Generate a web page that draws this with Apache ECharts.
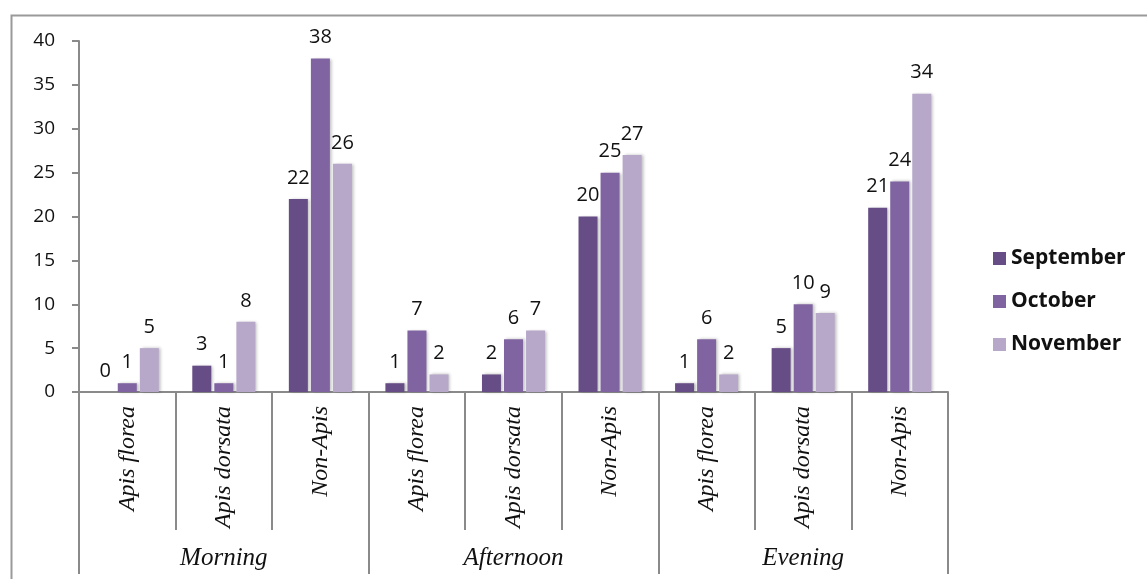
<!DOCTYPE html>
<html>
<head>
<meta charset="utf-8">
<script src="https://cdn.jsdelivr.net/npm/echarts@6/dist/echarts.min.js"></script>
<style>
html,body{margin:0;padding:0;background:#fff;}
#c{width:1147px;height:579px;}
</style>
</head>
<body>
<div id="c"></div>
<script>
var categories = ['Apis florea','Apis dorsata','Non-Apis','Apis florea','Apis dorsata','Non-Apis','Apis florea','Apis dorsata','Non-Apis'];
var groups = ['Morning','Afternoon','Evening'];
var september = [0,3,22,1,2,20,1,5,21];
var october = [1,1,38,7,6,25,6,10,24];
var november = [5,8,26,2,7,27,2,9,34];
var seriesNames = ['September','October','November'];
var yTicks = {min:0, max:40, interval:5};

var colors = ['#674d85','#8064a2','#b7a8ca'];
var chart = echarts.init(document.getElementById('c'));
function mk(name, data, color){
  return {
    name: name, type: 'bar', data: data, xAxisIndex: 0,
    barWidth: 19, barGap: '16%',
    itemStyle: {color: color, shadowColor: 'rgba(0,0,0,0.25)', shadowBlur: 3, shadowOffsetX: 2, shadowOffsetY: 0},
    label: {show: true, position: 'top', distance: 11, fontSize: 20, color: '#111', fontFamily: 'Open Sans, Liberation Sans, sans-serif'}
  };
}
chart.setOption({
  animation: false,
  backgroundColor: '#fff',
  graphic: [{type:'rect', left: 9, top: 13, shape:{width:1150, height:600}, style:{fill:'none', stroke:'#9a9a9a', lineWidth:2}, silent:true, z:-1}],
  grid: {left: 79, right: 199, top: 41, bottom: 187},
  legend: {
    orient: 'vertical', left: 988, top: 243, itemWidth: 13, itemHeight: 13, itemGap: 22,
    icon: 'rect',
    textStyle: {fontSize: 21, fontWeight: 'bold', color: '#111', fontFamily: 'Open Sans, Liberation Sans, sans-serif', lineHeight: 20},
    data: seriesNames
  },
  xAxis: [
    {
      type: 'category', data: categories, position: 'bottom',
      axisLine: {lineStyle: {color: '#8a8a8a', width: 2}},
      axisTick: {show: true, length: 138, lineStyle: {color: '#8a8a8a', width: 2}},
      axisLabel: {rotate: 90, margin: 14, fontSize: 24, fontStyle: 'italic', color: '#111', fontFamily: 'Liberation Serif, DejaVu Serif, serif'}
    },
    {
      type: 'category', data: groups, position: 'bottom',
      axisLine: {show: false},
      axisTick: {show: true, length: 182, lineStyle: {color: '#8a8a8a', width: 2}},
      axisLabel: {margin: 154, fontSize: 25, fontStyle: 'italic', color: '#111', fontFamily: 'Liberation Serif, DejaVu Serif, serif'}
    }
  ],
  yAxis: {
    type: 'value', min: yTicks.min, max: yTicks.max, interval: yTicks.interval,
    axisLine: {show: true, lineStyle: {color: '#8a8a8a', width: 2}},
    axisTick: {show: true, length: 7, lineStyle: {color: '#8a8a8a', width: 2}},
    splitLine: {show: false},
    axisLabel: {fontSize: 19, color: '#111', margin: 24, fontFamily: 'Open Sans, Liberation Sans, sans-serif'}
  },
  series: [mk(seriesNames[0], september, colors[0]), mk(seriesNames[1], october, colors[1]), mk(seriesNames[2], november, colors[2])]
});
</script>
</body>
</html>
